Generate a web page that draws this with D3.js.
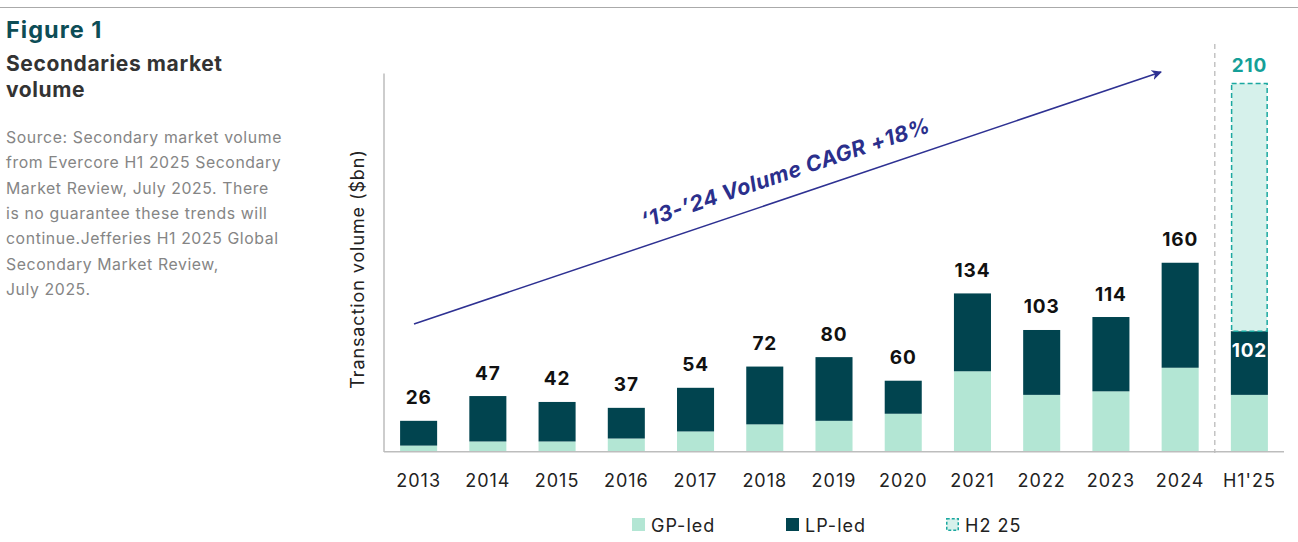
<!DOCTYPE html>
<html>
<head>
<meta charset="utf-8">
<script src="https://cdn.jsdelivr.net/npm/d3@7"></script>
<style>
  body { margin: 0; background: #fff; font-family: Inter, "Noto Sans", sans-serif; }
  svg { display: block; }
</style>
</head>
<body>
<svg id="chart" width="1298" height="542"></svg>
<script>
// chart values
var years   = ["2013","2014","2015","2016","2017","2018","2019","2020","2021","2022","2023","2024","H1'25"];
var gpLed   = [5, 8.5, 8.5, 11, 17, 23, 26, 32, 68, 48, 51, 71, 48];
var lpLed   = [21, 38.5, 33.5, 26, 37, 49, 54, 28, 66, 55, 63, 89, 54];
var totals  = [26, 47, 42, 37, 54, 72, 80, 60, 134, 103, 114, 160, 102];
var h2Year  = "H1'25";
var h2Value = 210;
var legendLabels = ["GP-led", "LP-led", "H2 25"];
var sourceLines = [
  "Source: Secondary market volume",
  "from Evercore H1 2025 Secondary",
  "Market Review, July 2025. There",
  "is no guarantee these trends will",
  "continue.Jefferies H1 2025 Global",
  "Secondary Market Review,",
  "July 2025."
];

var GP = "#b3e6d4", LP = "#01444f", H2FILL = "#d6f1eb", H2LINE = "#1aa8a0";

var svg = d3.select("#chart");

// header rule + side text
svg.append("line").attr("x1",0).attr("x2",1298).attr("y1",7.5).attr("y2",7.5)
   .attr("stroke","#aaa").attr("stroke-width",1.2);

svg.append("text").attr("x",6).attr("y",37.5).text("Figure 1")
   .style("font-size","23.5px").style("font-weight",700).style("fill","#0d4d56")
   .style("letter-spacing","1px");

svg.selectAll("text.ttl").data(["Secondaries market","volume"]).enter()
   .append("text").attr("class","ttl")
   .attr("x",6).attr("y",function(d,i){ return 71 + i*26; })
   .text(function(d){ return d; })
   .style("font-size","21px").style("font-weight",700).style("fill","#333")
   .style("letter-spacing","0.6px");

svg.selectAll("text.src").data(sourceLines).enter()
   .append("text").attr("class","src")
   .attr("x",6).attr("y",function(d,i){ return 143 + i*25.3; })
   .text(function(d){ return d; })
   .style("font-size","15.8px").style("fill","#858585")
   .style("letter-spacing","0.6px");

// scales
var x = d3.scaleBand().domain(years).range([384, 1284]).paddingInner(0.465).paddingOuter(0.2325);
var y = d3.scaleLinear().domain([0, 320]).range([451.5, 74]);

var rows = years.map(function(yr,i){
  return { year: yr, gp: gpLed[i], lp: lpLed[i], total: totals[i] };
});
var stack = d3.stack().keys(["gp","lp"])(rows);
var colors = { gp: GP, lp: LP };

// separator before the H1'25 bar
var sepX = (x("2024") + x.bandwidth() + x(h2Year)) / 2;
svg.append("line").attr("x1",sepX).attr("x2",sepX).attr("y1",44).attr("y2",453)
   .attr("stroke","#c4c4c4").attr("stroke-width",1.5).attr("stroke-dasharray","5,4");

stack.forEach(function(layer){
  svg.append("g").selectAll("rect").data(layer).enter().append("rect")
     .attr("x",function(d){ return x(d.data.year); })
     .attr("y",function(d){ return y(d[1]); })
     .attr("width",x.bandwidth())
     .attr("height",function(d){ return y(d[0]) - y(d[1]); })
     .attr("fill",colors[layer.key]);
});

// H2 estimate stacked on top of H1'25
var h1Total = totals[years.indexOf(h2Year)];
svg.append("rect")
   .attr("x",x(h2Year)+0.75).attr("y",y(h1Total + h2Value))
   .attr("width",x.bandwidth()-1.5).attr("height",y(h1Total) - y(h1Total + h2Value))
   .attr("fill",H2FILL).attr("stroke",H2LINE).attr("stroke-width",1.5)
   .attr("stroke-dasharray","5,3");

// axes lines
svg.append("line").attr("x1",384).attr("x2",1284).attr("y1",451.8).attr("y2",451.8)
   .attr("stroke","#bdbdbd").attr("stroke-width",1.5);
svg.append("line").attr("x1",384).attr("x2",384).attr("y1",73.5).attr("y2",452)
   .attr("stroke","#bdbdbd").attr("stroke-width",1.5);

var xAxis = svg.append("g").attr("transform","translate(0,451.8)")
   .call(d3.axisBottom(x).tickSize(0).tickPadding(22));
xAxis.select(".domain").remove();
xAxis.selectAll("text").style("font-size","18px").style("fill","#222")
   .style("font-family","Inter, sans-serif").style("letter-spacing","1px");

svg.append("text")
   .attr("transform","translate(364,269) rotate(-90)")
   .attr("text-anchor","middle")
   .text("Transaction volume ($bn)")
   .style("font-size","18px").style("fill","#222").style("letter-spacing","0.9px");

// value labels
svg.append("g").selectAll("text").data(rows.filter(function(d){ return d.year !== h2Year; }))
   .enter().append("text")
   .attr("x",function(d){ return x(d.year) + x.bandwidth()/2; })
   .attr("y",function(d){ return y(d.total) - 16.5; })
   .attr("text-anchor","middle")
   .text(function(d){ return d.total; })
   .style("font-size","19px").style("font-weight",700).style("fill","#111")
   .style("letter-spacing","0.8px");

svg.append("text")
   .attr("x",x(h2Year) + x.bandwidth()/2).attr("y",y(h1Total) + 25.5)
   .attr("text-anchor","middle").text(h1Total)
   .style("font-size","19px").style("font-weight",700).style("fill","#fff")
   .style("letter-spacing","0.8px");

svg.append("text")
   .attr("x",x(h2Year) + x.bandwidth()/2).attr("y",y(h1Total + h2Value) - 11.5)
   .attr("text-anchor","middle").text(h2Value)
   .style("font-size","19px").style("font-weight",700).style("fill","#159f98")
   .style("letter-spacing","0.8px");

// CAGR arrow
svg.append("defs").append("marker")
   .attr("id","arrow").attr("viewBox","0 0 10 10").attr("refX",9).attr("refY",5)
   .attr("markerWidth",7).attr("markerHeight",7).attr("orient","auto")
   .append("path").attr("d","M0,0 L10,5 L0,10 L3,5 Z").attr("fill","#2e3192");

svg.append("line").attr("x1",414).attr("y1",324).attr("x2",1161).attr("y2",72)
   .attr("stroke","#2e3192").attr("stroke-width",1.5).attr("marker-end","url(#arrow)");

svg.append("text")
   .attr("transform","translate(788,180) rotate(-18.6)")
   .attr("text-anchor","middle")
   .text("\u201813-\u201924 Volume CAGR +18%")
   .style("font-size","21.5px").style("font-weight",700).style("font-style","italic")
   .style("fill","#2b2f8c").style("letter-spacing","0.5px");

// legend
var legendX = [632, 786, 946];
var lg = svg.append("g").selectAll("g").data(legendLabels).enter().append("g")
   .attr("transform",function(d,i){ return "translate(" + legendX[i] + ",518)"; });
lg.append("rect")
   .attr("x",function(d,i){ return i === 2 ? 0.75 : 0; })
   .attr("y",function(d,i){ return i === 2 ? 0.75 : 0; })
   .attr("width",function(d,i){ return i === 2 ? 11.5 : 13; })
   .attr("height",function(d,i){ return i === 2 ? 11.5 : 13; })
   .attr("fill",function(d,i){ return [GP, LP, H2FILL][i]; })
   .attr("stroke",function(d,i){ return i === 2 ? H2LINE : "none"; })
   .attr("stroke-width",1.5).attr("stroke-dasharray","3,2");
lg.append("text").attr("x",19).attr("y",13.5).text(function(d){ return d; })
   .style("font-size","18px").style("fill","#222").style("letter-spacing","1px");
</script>
</body>
</html>
